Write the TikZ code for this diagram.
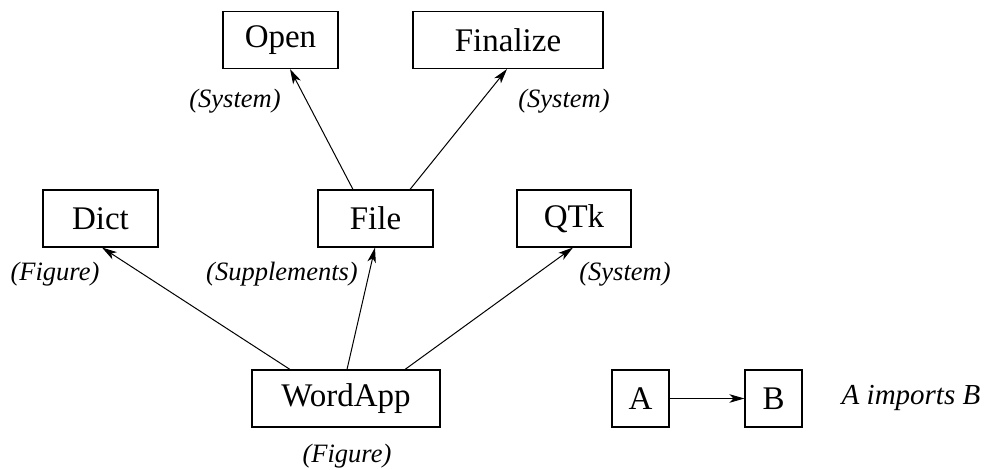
\documentclass[tikz,border=0pt]{standalone}
\usepackage{fontspec}
\setmainfont{Liberation Serif}
\usetikzlibrary{arrows.meta}
\tikzset{
  box/.style={draw, line width=1.1pt, rectangle, inner sep=0pt, minimum height=57pt, font=\fontsize{33}{33}\selectfont},
  lbl/.style={inner sep=0pt, font=\fontsize{26.5}{26.5}\selectfont\itshape},
  arr/.style={line width=1pt, -{Stealth[length=15pt,width=8.5pt,inset=4pt]}}
}
\begin{document}
\begin{tikzpicture}[x=1pt,y=-1pt]
\useasboundingbox (0,0) rectangle (986,470);
\node[box, minimum width=115pt] (open) at (280.5,40) {Open};
\node[box, minimum width=190pt] (fin) at (508,40) {Finalize};
\node[box, minimum width=115pt] (dict) at (100.5,218.5) {Dict};
\node[box, minimum width=115pt] (file) at (375.5,218.5) {File};
\node[box, minimum width=114pt] (qtk) at (574,218.5) {QTk};
\node[box, minimum width=188pt] (word) at (346,398.5) {WordApp};
\node[box, minimum width=57pt] (a) at (640.5,398.5) {A};
\node[box, minimum width=57pt] (b) at (773.5,398.5) {B};
\node[inner sep=0pt, font=\fontsize{29}{29}\selectfont\itshape] (legend) at (911,398) {A imports B};

\node[lbl] (l1) at (235,101) {(System)};
\node[lbl] (l2) at (564,101) {(System)};
\node[lbl] (l3) at (55,274) {(Figure)};
\node[lbl] (l4) at (282,274) {(Supplements)};
\node[lbl] (l5) at (625,274) {(System)};
\node[lbl] (l6) at (347,456) {(Figure)};

\draw[arr] ([xshift=-56pt]word.north) -- ([xshift=1.5pt]dict.south);
\draw[arr] ([xshift=1pt]word.north) -- ([xshift=-0.5pt]file.south);
\draw[arr] ([xshift=59pt]word.north) -- ([xshift=-1pt]qtk.south);
\draw[arr] ([xshift=-22.5pt]file.north) -- ([xshift=9.5pt]open.south);
\draw[arr] ([xshift=34.5pt]file.north) -- ([xshift=-1pt]fin.south);
\draw[arr] (a.east) -- (b.west);
\end{tikzpicture}
\end{document}
